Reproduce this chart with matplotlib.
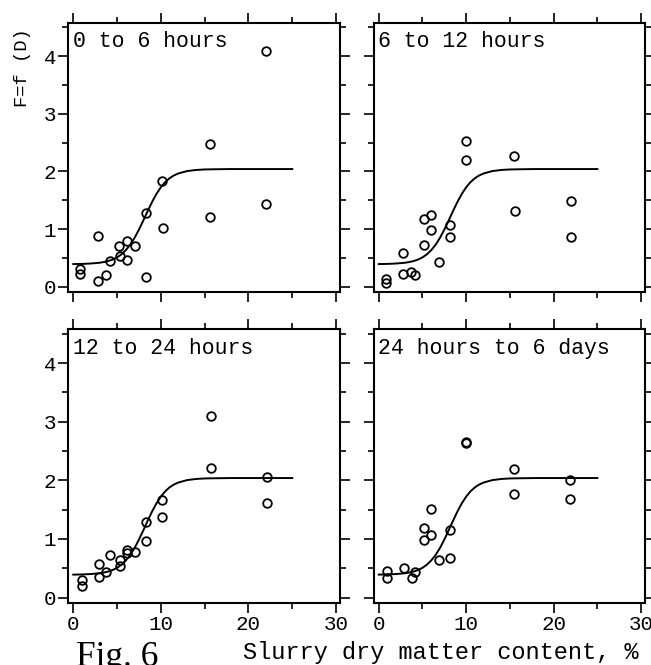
import matplotlib
matplotlib.use("Agg")
import matplotlib.pyplot as plt
from matplotlib.ticker import MultipleLocator

plt.rcParams['font.family'] = ['Liberation Mono', 'DejaVu Sans Mono']

panel_titles = ["0 to 6 hours", "6 to 12 hours", "12 to 24 hours", "24 hours to 6 days"]

x_0_6h = [0.8, 0.8, 2.85, 2.85, 3.75, 4.25, 5.25, 5.3, 6.1, 6.15, 7.05, 8.25, 8.25, 10.1, 10.2, 15.6, 15.6, 22.0, 22.0]
y_0_6h = [0.30, 0.22, 0.88, 0.10, 0.20, 0.45, 0.70, 0.53, 0.79, 0.46, 0.70, 1.28, 0.16, 1.83, 1.02, 2.47, 1.21, 4.09, 1.43]

x_6_12h = [0.8, 0.8, 2.8, 2.8, 3.65, 4.15, 5.15, 5.15, 6.0, 6.0, 6.9, 8.2, 8.2, 9.95, 9.95, 15.5, 15.55, 22.0, 22.0]
y_6_12h = [0.14, 0.06, 0.59, 0.22, 0.26, 0.20, 0.72, 1.17, 1.25, 0.98, 0.43, 1.07, 0.87, 2.53, 2.20, 2.27, 1.32, 1.49, 0.87]

x_12_24h = [1.0, 1.0, 2.9, 2.9, 3.75, 4.25, 5.3, 5.3, 6.15, 6.15, 7.0, 8.25, 8.25, 10.15, 10.15, 15.7, 15.7, 22.1, 22.1]
y_12_24h = [0.30, 0.20, 0.57, 0.36, 0.44, 0.72, 0.64, 0.54, 0.81, 0.76, 0.77, 1.29, 0.97, 1.67, 1.37, 2.21, 3.10, 2.05, 1.61]

x_24h_6d = [1.0, 1.0, 2.85, 3.75, 4.2, 5.15, 5.15, 6.0, 5.95, 6.9, 8.2, 8.2, 9.95, 9.95, 15.5, 15.5, 21.9, 21.9]
y_24h_6d = [0.45, 0.34, 0.50, 0.33, 0.43, 1.18, 0.98, 1.06, 1.51, 0.65, 1.15, 0.67, 2.66, 2.63, 2.20, 1.77, 2.01, 1.68]

curve_x = [0, 1, 2, 3, 3.5, 4, 4.5, 5, 5.5, 6, 6.5, 7, 7.5, 8, 8.5, 9, 9.5, 10, 10.5, 11, 11.5,
           12, 13, 14, 15, 16, 18, 20, 22, 25]
curve_y = [0.392, 0.395, 0.402, 0.415, 0.428, 0.445, 0.471, 0.508, 0.561, 0.633, 0.727, 0.847, 0.990,
           1.149, 1.313, 1.470, 1.609, 1.724, 1.814, 1.882, 1.930, 1.964, 2.005, 2.024, 2.033, 2.036,
           2.04, 2.04, 2.04, 2.04]

x_ticks = [0, 10, 20, 30]
y_ticks = [0, 1, 2, 3, 4]

series = [(x_0_6h, y_0_6h), (x_6_12h, y_6_12h), (x_12_24h, y_12_24h), (x_24h_6d, y_24h_6d)]

W, H = 651, 665
fig = plt.figure(figsize=(W / 100, H / 100), dpi=100)

# axes boxes in pixels: (left, top, right, bottom)
boxes = [(68, 22.7, 340, 291.7), (373.5, 22.7, 645, 291.7),
         (68, 329.3, 340, 602.7), (373.5, 329.3, 645, 602.7)]

for i, (box, (xs, ys), title) in enumerate(zip(boxes, series, panel_titles)):
    l, t, r, b = box
    ax = fig.add_axes([l / W, 1 - b / H, (r - l) / W, (b - t) / H])
    ax.plot(curve_x, curve_y, color='black', lw=1.4)
    ax.plot(xs, ys, linestyle='none', marker='o', markersize=6.2, markerfacecolor='none',
            markeredgecolor='black', markeredgewidth=1.3)
    ax.set_xlim(-0.6, 30.45)
    ax.set_ylim(-0.087, 4.578)
    ax.set_xticks(x_ticks)
    ax.set_yticks(y_ticks)
    ax.xaxis.set_minor_locator(MultipleLocator(5))
    ax.yaxis.set_minor_locator(MultipleLocator(0.5))
    ax.tick_params(which='both', direction='out', top=True, right=True, width=1.2,
                   labelsize=15, pad=1.5, colors='black')
    ax.tick_params(which='major', length=7)
    ax.tick_params(which='minor', length=4)
    for s in ax.spines.values():
        s.set_linewidth(1.5)
    ax.tick_params(labelbottom=(i >= 2), labelleft=(i % 2 == 0))
    ax.text(0.017, 0.9085, title, transform=ax.transAxes, fontsize=15.5, va='baseline', ha='left')

fig.text(22.5 / W, 1 - 67.5 / H, "F=f (D)", rotation=90, fontsize=13.5, ha='center', va='center')
fig.text(441 / W, 1 - 652 / H, "Slurry dry matter content, %", fontsize=17, ha='center', va='center')
fig.text(76 / W, 1 - 666 / H, "Fig. 6", fontsize=25.5, ha='left', va='baseline',
         family=['Liberation Serif', 'DejaVu Serif'])

fig.savefig("out.png", dpi=100)
